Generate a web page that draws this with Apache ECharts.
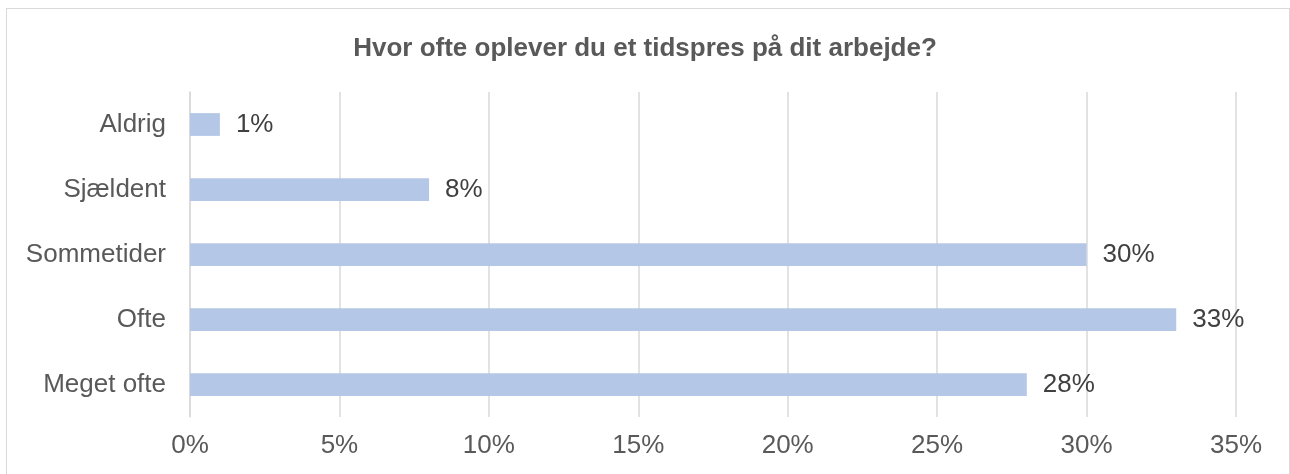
<!DOCTYPE html>
<html>
<head>
<meta charset="utf-8">
<script src="https://cdn.jsdelivr.net/npm/echarts@6/dist/echarts.min.js"></script>
<style>
  html, body { margin: 0; padding: 0; background: #fff; overflow: hidden; }
  #frame {
    position: absolute; left: 6px; top: 8px; width: 1284px; height: 480px;
    border: 1px solid #d9d9d9; box-sizing: border-box;
  }
  #chart { position: absolute; left: 0; top: 0; width: 1290px; height: 474px; }
</style>
</head>
<body>
<div id="frame"></div>
<div id="chart"></div>
<script>
/**
 * DATA
 */
var categories = ['Aldrig', 'Sjældent', 'Sommetider', 'Ofte', 'Meget ofte'];
var percentValues = [1, 8, 30, 33, 28];
var xTicks = [0, 5, 10, 15, 20, 25, 30, 35];

/**
 * CHART
 */
var chart = echarts.init(document.getElementById('chart'));
var font = '"Liberation Sans", Arial, sans-serif';

var options = {
    animation: false,
    title: {
        text: 'Hvor ofte oplever du et tidspres på dit arbejde?',
        left: 'center',
        top: 31,
        textStyle: {
            fontFamily: font,
            fontWeight: 'bold',
            fontSize: 26,
            color: '#595959'
        }
    },
    grid: {
        left: 190,
        right: 54,
        top: 92,
        bottom: 57,
        containLabel: false
    },
    xAxis: {
        type: 'value',
        min: xTicks[0],
        max: xTicks[xTicks.length - 1],
        interval: 5,
        axisLine: {show: false},
        axisTick: {show: false},
        splitLine: {lineStyle: {color: '#d9d9d9', width: 1.5}},
        axisLabel: {
            formatter: '{value}%',
            fontFamily: font,
            fontSize: 26,
            color: '#595959',
            margin: 16
        }
    },
    yAxis: {
        type: 'category',
        inverse: true,
        data: categories,
        axisLine: {show: true, lineStyle: {color: '#d9d9d9', width: 1.5}},
        axisTick: {show: false},
        axisLabel: {
            fontFamily: font,
            fontSize: 26,
            color: '#595959',
            margin: 24
        }
    },
    series: [{
        type: 'bar',
        data: percentValues,
        barWidth: '35%',
        itemStyle: {color: '#b4c7e7'},
        label: {
            show: true,
            position: 'right',
            distance: 16,
            formatter: '{c}%',
            fontFamily: font,
            fontSize: 26,
            color: '#404040'
        }
    }]
};
chart.setOption(options);
</script>
</body>
</html>
